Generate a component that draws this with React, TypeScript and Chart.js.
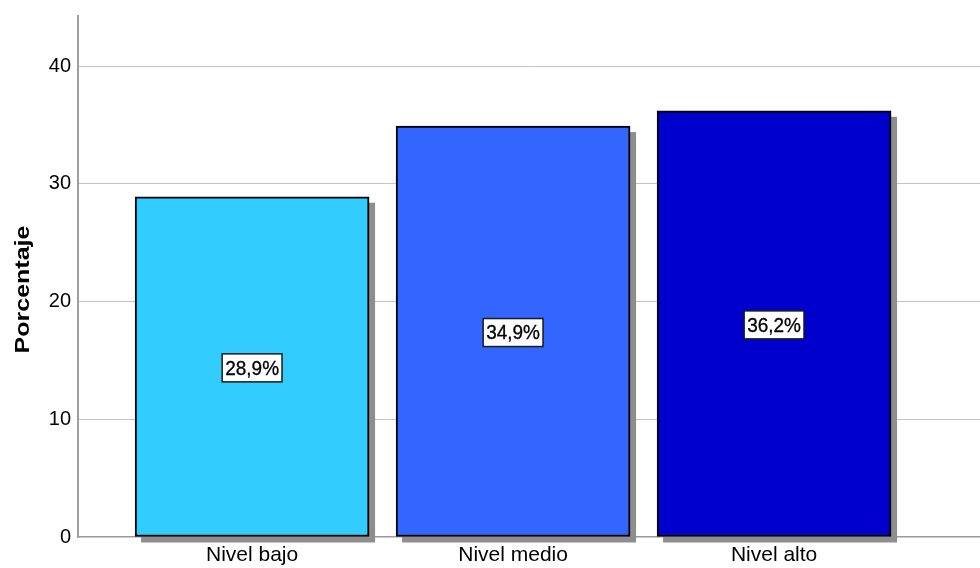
import React, { useEffect, useRef } from "react";
import { Chart, registerables } from "chart.js";

Chart.register(...registerables);

const categories = ["Nivel bajo", "Nivel medio", "Nivel alto"];
const percentages = [28.9, 34.9, 36.2];
const barColors = ["#33CCFF", "#3366FF", "#0000CC"];
const yTicks = [0, 10, 20, 30, 40];
const yAxisTitle = "Porcentaje";

const FONT = '"Liberation Sans", Arial, Helvetica, sans-serif';

// Grey drop shadow behind each bar
const barShadow = {
  id: "barShadow",
  beforeDatasetsDraw(chart: any) {
    const ctx = chart.ctx;
    const meta = chart.getDatasetMeta(0);
    ctx.save();
    ctx.fillStyle = "#8e8e8e";
    meta.data.forEach((bar: any) => {
      const { x, y, base, width } = bar.getProps(["x", "y", "base", "width"], true);
      ctx.fillRect(x - width / 2 + 6, y + 6, width, base - y);
    });
    ctx.restore();
  },
};

// Boxed percentage label centred in each bar
const valueBoxes = {
  id: "valueBoxes",
  afterDatasetsDraw(chart: any) {
    const ctx = chart.ctx;
    const meta = chart.getDatasetMeta(0);
    const yScale = chart.scales.y;
    ctx.save();
    ctx.font = `19px ${FONT}`;
    ctx.textAlign = "center";
    ctx.textBaseline = "middle";
    meta.data.forEach((bar: any, i: number) => {
      const v = percentages[i];
      const text = v.toFixed(1).replace(".", ",") + "%";
      const cx = bar.x;
      const cy = yScale.getPixelForValue(v / 2) + 1;
      const w = ctx.measureText(text).width + 6;
      const h = 28;
      ctx.fillStyle = "#ffffff";
      ctx.fillRect(cx - w / 2, cy - h / 2, w, h);
      ctx.strokeStyle = "#1a1a1a";
      ctx.lineWidth = 1.5;
      ctx.strokeRect(cx - w / 2, cy - h / 2, w, h);
      ctx.save();
      ctx.translate(cx, cy + 1);
      ctx.scale(1, 1.1);
      ctx.fillStyle = "#000000";
      ctx.strokeStyle = "#000000";
      ctx.lineWidth = 0.3;
      ctx.fillText(text, 0, 0);
      ctx.strokeText(text, 0, 0);
      ctx.restore();
    });
    ctx.restore();
  },
};

// Rotated y-axis title
const yTitle = {
  id: "yTitle",
  afterDraw(chart: any) {
    const ctx = chart.ctx;
    const area = chart.chartArea;
    ctx.save();
    ctx.font = `bold 21px ${FONT}`;
    ctx.fillStyle = "#000000";
    ctx.textAlign = "center";
    ctx.textBaseline = "middle";
    const w = ctx.measureText(yAxisTitle).width;
    ctx.translate(23, (area.top + area.bottom) / 2 + 13);
    ctx.rotate(-Math.PI / 2);
    ctx.scale(128 / w, 1);
    ctx.fillText(yAxisTitle, 0, 0);
    ctx.restore();
  },
};

export default function App() {
  const canvasRef = useRef<HTMLCanvasElement>(null);

  useEffect(() => {
    document.body.style.margin = "0";
    const canvas = canvasRef.current;
    if (!canvas) return;
    const chart = new Chart(canvas, {
      type: "bar",
      data: {
        datasets: [
          {
            data: percentages.map((v, i) => ({ x: i, y: v })),
            backgroundColor: barColors,
            borderColor: "#000000",
            borderWidth: 2,
            borderSkipped: false,
            barThickness: 234,
          },
        ],
      },
      options: {
        animation: false,
        responsive: false,
        maintainAspectRatio: false,
        layout: { padding: { top: 16, right: 0, left: 0, bottom: 0 } },
        plugins: {
          legend: { display: false },
          tooltip: { enabled: false },
        },
        scales: {
          x: {
            type: "linear",
            min: -0.667,
            max: 2.789,
            offset: false,
            grid: { display: false, drawTicks: false, offset: false },
            border: { display: true, color: "#9a9a9a", width: 1.5 },
            afterBuildTicks: (scale: any) => {
              scale.ticks = categories.map((_, i) => ({ value: i }));
            },
            afterFit: (scale: any) => {
              scale.height = 31;
              scale.paddingLeft = 0;
              scale.paddingRight = 0;
            },
            ticks: {
              autoSkip: false,
              maxRotation: 0,
              padding: 6,
              color: "#000000",
              font: { family: FONT, size: 21 },
              callback: (v: any) => categories[v] ?? "",
            },
          },
          y: {
            type: "linear",
            min: 0,
            max: 44.25,
            grid: {
              drawTicks: false,
              color: (c: any) => (c.tick && c.tick.value === 0 ? "rgba(0,0,0,0)" : "#c4c4c4"),
              lineWidth: 1,
            },
            border: { display: true, color: "#a0a0a0", width: 2 },
            afterBuildTicks: (scale: any) => {
              scale.ticks = yTicks.map((v) => ({ value: v }));
            },
            afterFit: (scale: any) => {
              scale.width = 78;
              scale.paddingTop = 0;
              scale.paddingBottom = 0;
            },
            ticks: {
              padding: 7,
              color: "#000000",
              font: { family: FONT, size: 20 },
            },
          },
        },
      },
      plugins: [barShadow, valueBoxes, yTitle],
    } as any);
    return () => chart.destroy();
  }, []);

  return (
    <div style={{ width: 980, height: 568, background: "#ffffff" }}>
      <canvas ref={canvasRef} width={980} height={568} style={{ display: "block" }} />
    </div>
  );
}
